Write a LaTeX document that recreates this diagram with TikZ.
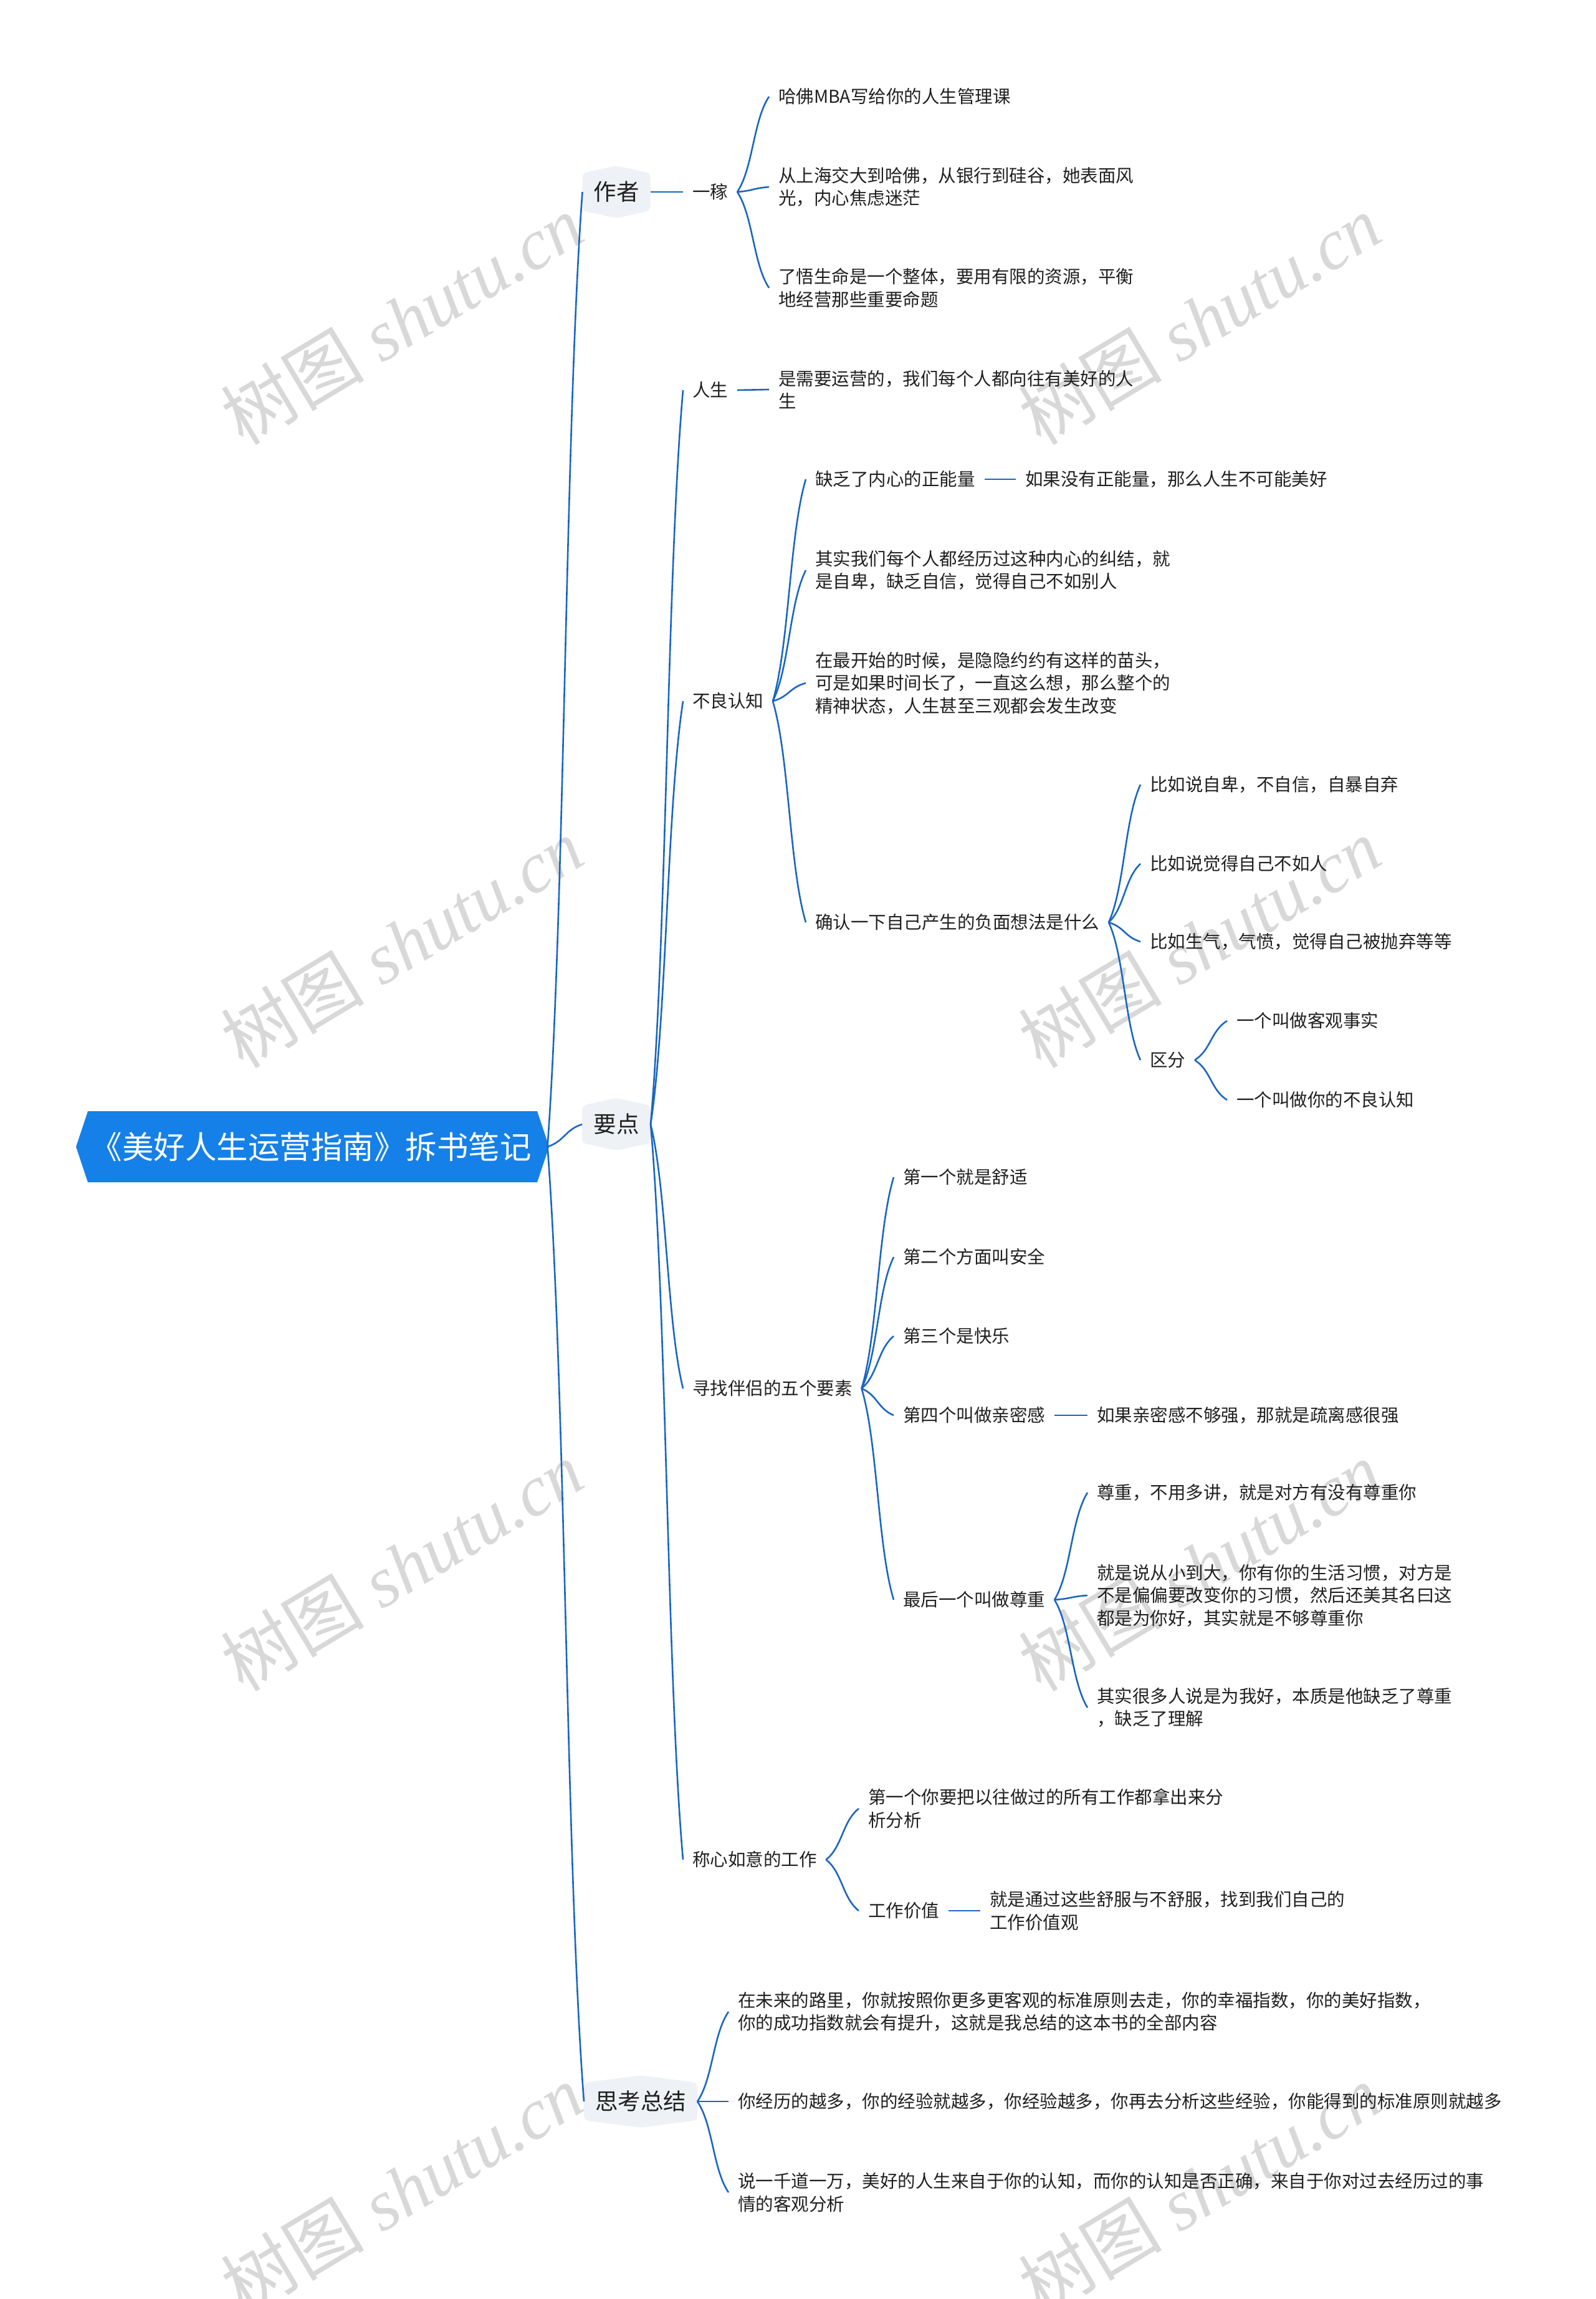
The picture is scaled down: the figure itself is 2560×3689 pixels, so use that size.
\documentclass[tikz,border=0pt]{standalone}
\usepackage{fontspec}
\setmainfont{Liberation Serif}
\newfontfamily\cjk{Noto Sans CJK SC}
\usetikzlibrary{calc}
\definecolor{linec}{HTML}{1A66C2}
\definecolor{rootc}{HTML}{1580E8}
\definecolor{hexc}{HTML}{EEF1F5}
\definecolor{txtc}{HTML}{202020}
\definecolor{wmc}{HTML}{D8D8D8}
\tikzset{
  leaf/.style={anchor=west, inner xsep=0pt, inner ysep=2pt, outer xsep=15pt, outer ysep=0pt, align=left, text=txtc, font=\cjk\fontsize{28.5}{36.5}\selectfont},
  hexlabel/.style={inner sep=0pt, outer sep=0pt, minimum height=84pt, text=txtc, font=\cjk\fontsize{36.5}{40}\selectfont},
  link/.style={draw=linec, line width=2.6pt},
  wm/.style={text=wmc, rotate=31, inner sep=0pt},
}
\newcommand\mmlink[2]{\draw[link] let \p1=(#1), \p2=(#2) in (\p1) .. controls ({0.5*\x1+0.5*\x2},{0.75*\y1+0.25*\y2}) and ({0.5*\x1+0.5*\x2},{0.25*\y1+0.75*\y2}) .. (\p2);}
\newcommand\hexnode[5]{%
  \fill[hexc, rounded corners=7pt] ({#2-#4/2},{#3-30}) -- ({#2},{#3-42}) -- ({#2+#4/2},{#3-30}) -- ({#2+#4/2},{#3+30}) -- ({#2},{#3+42}) -- ({#2-#4/2},{#3+30}) -- cycle;
  \node[hexlabel, minimum width=#4 pt] (#1) at (#2,#3) {#5};}
\newcommand\wmark[2]{\node[wm] at (#1,#2) {\cjk\fontsize{115}{120}\selectfont 树图\hspace{0.25em}\itshape\fontspec{Liberation Serif}shutu.cn};}
\begin{document}
\begin{tikzpicture}[x=1pt,y=-1pt]
\useasboundingbox (0,0) rectangle (2560,3689);
\fill[white] (0,0) rectangle (2560,3689);
% watermarks
\wmark{645}{513}\wmark{1925}{513}
\wmark{645}{1513}\wmark{1925}{1513}
\wmark{645}{2513}\wmark{1925}{2513}
\wmark{645}{3513}\wmark{1925}{3513}
% root
\fill[rootc] (122,1840) -- (141,1783) -- (862,1783) -- (881,1840) -- (862,1897) -- (141,1897) -- cycle;
\node[inner sep=0pt, outer sep=0pt, minimum width=759pt, minimum height=114pt, text=white, font=\cjk\fontsize{50.5}{54}\selectfont] (root) at (499,1840) {《美好人生运营指南》拆书笔记};
% level 1
\hexnode{zz}{989}{308}{109}{作者}
\hexnode{yd}{989}{1804}{110}{要点}
\hexnode{sk}{1028}{3372}{182}{思考总结}
% 作者
\node[leaf] (yj) at (1096,308) {一稼};
\node[leaf] (a1) at (1234,155) {哈佛MBA写给你的人生管理课};
\node[leaf] (a2) at (1234,300) {从上海交大到哈佛，从银行到硅谷，她表面风\\光，内心焦虑迷茫};
\node[leaf] (a3) at (1234,462) {了悟生命是一个整体，要用有限的资源，平衡\\地经营那些重要命题};
% 要点
\node[leaf] (rs) at (1096,626) {人生};
\node[leaf] (rs1) at (1234,625) {是需要运营的，我们每个人都向往有美好的人\\生};
\node[leaf] (bl) at (1096,1125) {不良认知};
\node[leaf] (bl1) at (1293,769) {缺乏了内心的正能量};
\node[leaf] (bl1a) at (1630,769) {如果没有正能量，那么人生不可能美好};
\node[leaf] (bl2) at (1293,915) {其实我们每个人都经历过这种内心的纠结，就\\是自卑，缺乏自信，觉得自己不如别人};
\node[leaf] (bl3) at (1293,1096) {在最开始的时候，是隐隐约约有这样的苗头，\\可是如果时间长了，一直这么想，那么整个的\\精神状态，人生甚至三观都会发生改变};
\node[leaf] (bl4) at (1293,1480) {确认一下自己产生的负面想法是什么};
\node[leaf] (c1) at (1830,1259) {比如说自卑，不自信，自暴自弃};
\node[leaf] (c2) at (1830,1386) {比如说觉得自己不如人};
\node[leaf] (c3) at (1830,1511) {比如生气，气愤，觉得自己被抛弃等等};
\node[leaf] (c4) at (1830,1701) {区分};
\node[leaf] (d1) at (1969,1638) {一个叫做客观事实};
\node[leaf] (d2) at (1969,1765) {一个叫做你的不良认知};
\node[leaf] (xz) at (1096,2228) {寻找伴侣的五个要素};
\node[leaf] (e1) at (1434,1889) {第一个就是舒适};
\node[leaf] (e2) at (1434,2017) {第二个方面叫安全};
\node[leaf] (e3) at (1434,2144) {第三个是快乐};
\node[leaf] (e4) at (1434,2271) {第四个叫做亲密感};
\node[leaf] (e4a) at (1745,2271) {如果亲密感不够强，那就是疏离感很强};
\node[leaf] (e5) at (1434,2567) {最后一个叫做尊重};
\node[leaf] (f1) at (1745,2395) {尊重，不用多讲，就是对方有没有尊重你};
\node[leaf] (f2) at (1745,2560) {就是说从小到大，你有你的生活习惯，对方是\\不是偏偏要改变你的习惯，然后还美其名曰这\\都是为你好，其实就是不够尊重你};
\node[leaf] (f3) at (1745,2740) {其实很多人说是为我好，本质是他缺乏了尊重\\，缺乏了理解};
\node[leaf] (cx) at (1096,2984) {称心如意的工作};
\node[leaf] (g1) at (1378,2902) {第一个你要把以往做过的所有工作都拿出来分\\析分析};
\node[leaf] (g2) at (1378,3066) {工作价值};
\node[leaf] (g2a) at (1573,3066) {就是通过这些舒服与不舒服，找到我们自己的\\工作价值观};
% 思考总结
\node[leaf] (h1) at (1169,3228) {在未来的路里，你就按照你更多更客观的标准原则去走，你的幸福指数，你的美好指数，\\你的成功指数就会有提升，这就是我总结的这本书的全部内容};
\node[leaf] (h2) at (1169,3372) {你经历的越多，你的经验就越多，你经验越多，你再去分析这些经验，你能得到的标准原则就越多};
\node[leaf] (h3) at (1169,3518) {说一千道一万，美好的人生来自于你的认知，而你的认知是否正确，来自于你对过去经历过的事\\情的客观分析};
% links
\mmlink{root.east}{zz.west}
\mmlink{root.east}{yd.west}
\mmlink{root.east}{sk.west}
\mmlink{zz.east}{yj.west}
\mmlink{yj.east}{a1.west}
\mmlink{yj.east}{a2.west}
\mmlink{yj.east}{a3.west}
\mmlink{yd.east}{rs.west}
\mmlink{yd.east}{bl.west}
\mmlink{yd.east}{xz.west}
\mmlink{yd.east}{cx.west}
\mmlink{rs.east}{rs1.west}
\mmlink{bl.east}{bl1.west}
\mmlink{bl.east}{bl2.west}
\mmlink{bl.east}{bl3.west}
\mmlink{bl.east}{bl4.west}
\mmlink{bl1.east}{bl1a.west}
\mmlink{bl4.east}{c1.west}
\mmlink{bl4.east}{c2.west}
\mmlink{bl4.east}{c3.west}
\mmlink{bl4.east}{c4.west}
\mmlink{c4.east}{d1.west}
\mmlink{c4.east}{d2.west}
\mmlink{xz.east}{e1.west}
\mmlink{xz.east}{e2.west}
\mmlink{xz.east}{e3.west}
\mmlink{xz.east}{e4.west}
\mmlink{xz.east}{e5.west}
\mmlink{e4.east}{e4a.west}
\mmlink{e5.east}{f1.west}
\mmlink{e5.east}{f2.west}
\mmlink{e5.east}{f3.west}
\mmlink{cx.east}{g1.west}
\mmlink{cx.east}{g2.west}
\mmlink{g2.east}{g2a.west}
\mmlink{sk.east}{h1.west}
\mmlink{sk.east}{h2.west}
\mmlink{sk.east}{h3.west}
\end{tikzpicture}
\end{document}
